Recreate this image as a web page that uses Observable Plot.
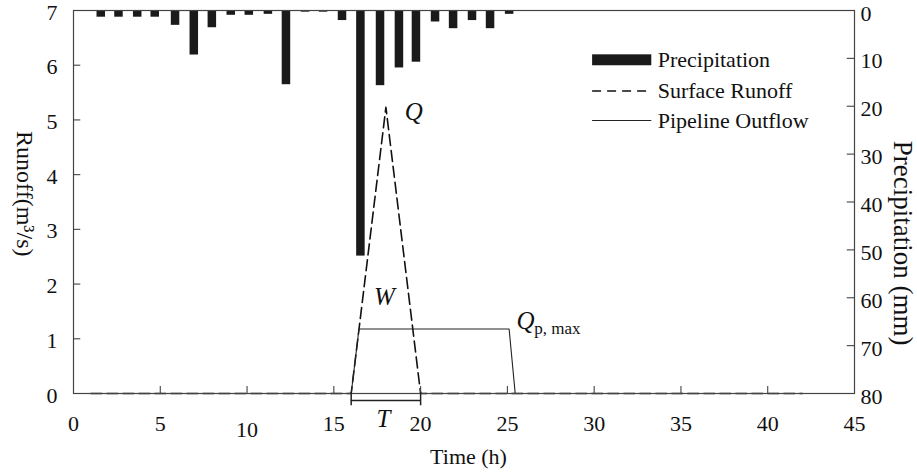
<!DOCTYPE html>
<html><head><meta charset="utf-8">
<script src="https://cdn.jsdelivr.net/npm/d3@7"></script>
<script src="https://cdn.jsdelivr.net/npm/@observablehq/plot@0.6"></script>
<style>body{margin:0;background:#fff}#chart{width:917px;height:474px}</style>
</head><body><div id="chart"></div>
<script>
// ---- data ----
const precipTime = [1.6,2.62,3.7,4.71,5.88,6.96,8.0,9.09,10.13,11.23,12.27,13.37,14.41,15.5,16.56,17.69,18.78,19.76,20.86,21.9,22.99,24.03,25.13];
const precipMM   = [1.4,1.4,1.4,1.4,3.1,9.3,3.6,1.0,1.0,0.8,15.5,0.35,0.35,2.1,51.3,15.7,12.0,10.8,2.4,3.8,2.1,3.8,0.8];
const runoffTime = [1,16,18,20,42];
const runoffQ    = [0,0,5.23,0,0];
const pipeTime   = [1,16,16.45,25.1,25.45,42];
const pipeQ      = [0,0,1.18,1.18,0,0];
const xTicks      = [0,5,10,15,20,25,30,35,40,45];
const yTicks      = [0,1,2,3,4,5,6,7];
const precipTicks = [0,10,20,30,40,50,60,70,80];
const T_start = 16, T_end = 20;
const legendLabels = ["Precipitation","Surface Runoff","Pipeline Outflow"];

const Y_MAX = 7, P_MAX = 80, BAR_W = 0.49;
const toY = p => Y_MAX * (1 - p / P_MAX);
const precip = precipTime.map((t,i)=>({t, p: precipMM[i]}));
const runoff = runoffTime.map((t,i)=>({t, q: runoffQ[i]}));
const pipe   = pipeTime.map((t,i)=>({t, q: pipeQ[i]}));
const FONT = '"Liberation Serif","Times New Roman",serif';
const INK = "#111";

const chart = Plot.plot({
  width: 917, height: 474,
  marginLeft: 73, marginRight: 63, marginTop: 10, marginBottom: 81,
  x: {domain: [0,45], axis: null},
  y: {domain: [0,7], axis: null},
  style: {fontFamily: FONT, fontSize: "22px", color: INK, background: "#fff", overflow: "visible"},
  marks: [
    Plot.rect(precip, {x1: d => d.t - BAR_W/2, x2: d => d.t + BAR_W/2, y1: Y_MAX, y2: d => toY(d.p), fill: "#1a1a1a"}),
    Plot.line(runoff, {x: "t", y: "q", stroke: INK, strokeWidth: 1.6, strokeDasharray: "11,5"}),
    Plot.line(pipe, {x: "t", y: "q", stroke: "#222", strokeWidth: 1.1}),
    Plot.frame({stroke: "#444", strokeWidth: 1.2}),
    // inward ticks
    Plot.ruleY(yTicks.slice(1,-1), {x1: 0, x2: 0.42, stroke: "#444", strokeWidth: 1.1}),
    Plot.ruleY(precipTicks.slice(1,-1).map(toY), {x1: 45-0.42, x2: 45, stroke: "#444", strokeWidth: 1.1}),
    Plot.ruleX(xTicks.slice(1,-1), {y1: 0, y2: 0.13, stroke: "#444", strokeWidth: 1.1}),
    // tick labels
    Plot.text(yTicks, {x: 0, y: d => d, dx: -16, dy: 2, textAnchor: "end", fontSize: 22, fill: INK}),
    Plot.text(precipTicks, {x: 45, y: d => toY(d), dx: 6, dy: 3, textAnchor: "start", fontSize: 22, fill: INK}),
    Plot.text(xTicks.filter(d => d !== 10), {x: d => d, y: 0, dy: 30, fontSize: 22, fill: INK}),
    Plot.text(xTicks.filter(d => d === 10), {x: d => d, y: 0, dy: 36, fontSize: 22, fill: INK}),
    // axis titles
    Plot.text(["Time (h)"], {x: 22.76, y: -1.16, fontSize: 22, fill: INK}),
    Plot.text(["Runoff(m³/s)"], {x: -2.79, y: 3.65, rotate: 90, fontSize: 24, fill: INK}),
    Plot.text(["Precipitation (mm)"], {x: 47.8, y: 2.75, rotate: 90, fontSize: 27, fill: INK}),
    // annotations
    Plot.text(["Q"], {x: 19.6, y: 5.15, fontSize: 25, fontStyle: "italic", fill: INK}),
    Plot.text(["W"], {x: 17.92, y: 1.77, fontSize: 25, fontStyle: "italic", fill: INK}),
    Plot.text(["T"], {x: 17.86, y: -0.46, fontSize: 25, fontStyle: "italic", fill: INK}),
    Plot.text(["Q"], {x: 26.05, y: 1.33, fontSize: 25, fontStyle: "italic", fill: INK}),
    Plot.text(["p, max"], {x: 26.55, y: 1.18, fontSize: 17, textAnchor: "start", fill: INK}),
    Plot.ruleY([-0.13], {x1: T_start, x2: T_end, stroke: "#222", strokeWidth: 1.5}),
    Plot.ruleX([T_start, T_end], {y1: 0.02, y2: -0.225, stroke: "#222", strokeWidth: 1.5}),
    // legend
    Plot.rect([0], {x1: 29.91, x2: 33.32, y1: 5.99, y2: 6.19, fill: "#1a1a1a"}),
    Plot.ruleY([5.53], {x1: 29.91, x2: 33.32, stroke: INK, strokeWidth: 1.4, strokeDasharray: "9,6"}),
    Plot.ruleY([4.99], {x1: 29.91, x2: 33.32, stroke: "#222", strokeWidth: 1.1}),
    Plot.text(legendLabels, {x: 33.66, y: (d,i) => [6.09,5.53,4.99][i], textAnchor: "start", fontSize: 22, fill: INK})
  ]
});
document.getElementById("chart").append(chart);
</script>
</body></html>
